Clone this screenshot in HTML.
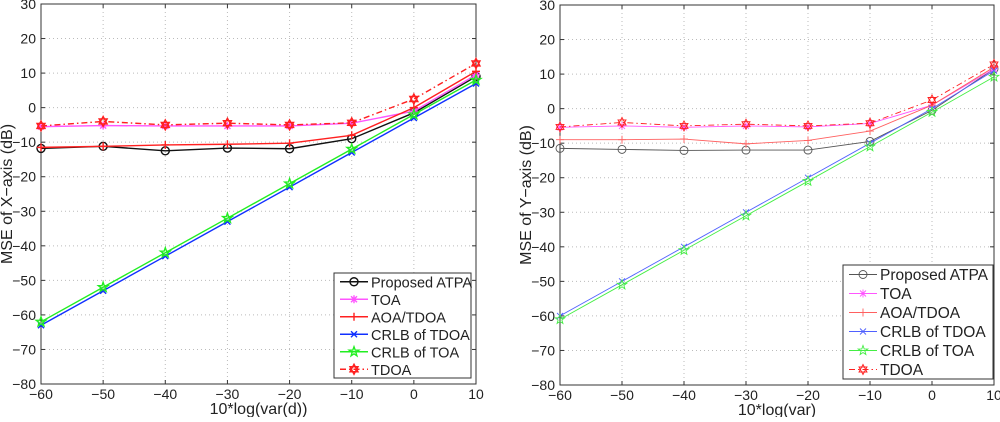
<!DOCTYPE html>
<html><head><meta charset="utf-8"><style>
body{margin:0;background:#fff}
svg text{font-family:"Liberation Sans",sans-serif;fill:#222}
</style></head><body>
<svg id="c" width="1000" height="417" xmlns="http://www.w3.org/2000/svg"></svg>
<script>
const xCats=[-60,-50,-40,-30,-20,-10,0,10];
const yTicks=[30,20,10,0,-10,-20,-30,-40,-50,-60,-70,-80];
const seriesNames=["Proposed ATPA","TOA","AOA/TDOA","CRLB of TDOA","CRLB of TOA","TDOA"];
const L_atpa=[-11.8,-11.2,-12.5,-11.7,-11.9,-9,-1.5,9];
const L_toa=[-5.5,-5.2,-5.3,-5.3,-5.3,-4.5,-1,9.5];
const L_aoa=[-11.5,-11.2,-10.8,-10.6,-10.3,-8,0,10.5];
const L_crlbTdoa=[-63,-53,-43,-33,-23,-13,-3,7];
const L_crlbToa=[-62,-52,-42,-32,-22,-12,-2,8];
const L_tdoa=[-5.3,-4,-5,-4.5,-5,-4.4,2.5,12.8];
const R_atpa=[-11.5,-11.8,-12.1,-12,-12,-9.5,-0.5,11.5];
const R_toa=[-5.4,-5,-5.4,-5,-5.3,-4.3,1,11.5];
const R_aoa=[-9,-9,-8.8,-10.2,-9.2,-6.5,1,12];
const R_crlbTdoa=[-60,-50,-40,-30,-20,-10,0,11];
const R_crlbToa=[-61,-51,-41,-31,-21,-11,-1,9.2];
const R_tdoa=[-5.3,-4,-5,-4.5,-5,-4.2,2.5,12.8];

const NS="http://www.w3.org/2000/svg";
const svg=document.getElementById('c');
function mk(t,a,p){const e=document.createElementNS(NS,t);for(const k in a)e.setAttribute(k,a[k]);(p||svg).appendChild(e);return e;}

function marker(g,type,x,y,col,sw){
  const s=4;
  if(type==='o'){mk('circle',{cx:x,cy:y,r:4,fill:'none',stroke:col,'stroke-width':sw},g);}
  else if(type==='*'){mk('path',{d:`M${x-s} ${y}H${x+s}M${x} ${y-s}V${y+s}M${x-3} ${y-3}L${x+3} ${y+3}M${x-3} ${y+3}L${x+3} ${y-3}`,stroke:col,'stroke-width':sw},g);}
  else if(type==='+'){mk('path',{d:`M${x-s} ${y}H${x+s}M${x} ${y-s}V${y+s}`,stroke:col,'stroke-width':sw},g);}
  else if(type==='x'){mk('path',{d:`M${x-3} ${y-3}L${x+3} ${y+3}M${x-3} ${y+3}L${x+3} ${y-3}`,stroke:col,'stroke-width':sw},g);}
  else if(type==='p'){let pts=[];for(let i=0;i<10;i++){const r=i%2?2:5,a=-Math.PI/2+i*Math.PI/5;pts.push((x+r*Math.cos(a)).toFixed(1)+','+(y+r*Math.sin(a)).toFixed(1));}mk('polygon',{points:pts.join(' '),fill:'none',stroke:col,'stroke-width':sw},g);}
  else if(type==='h'){mk('polygon',{points:`${x},${y-5} ${x+4},${y+2.5} ${x-4},${y+2.5}`,fill:'none',stroke:col,'stroke-width':sw},g);mk('polygon',{points:`${x},${y+5} ${x+4},${y-2.5} ${x-4},${y-2.5}`,fill:'none',stroke:col,'stroke-width':sw},g);}
}

function plot(id,x0,x1,y0,y1,xlabel,ylabel,data,sw,cols,leg,lfs){
  const g=mk('g',{});
  
  
  const X=v=>x0+(v+60)/70*(x1-x0), Y=v=>y0+(30-v)/110*(y1-y0);
  mk('rect',{x:x0,y:y0,width:x1-x0,height:y1-y0,fill:'#fff',stroke:'#333','stroke-width':1},g);
  xCats.forEach(v=>{const x=X(v);
    if(v>-60&&v<10)mk('line',{x1:x,y1:y0,x2:x,y2:y1,stroke:'#bbb','stroke-dasharray':'1,3'},g);
    mk('line',{x1:x,y1:y1,x2:x,y2:y1-4,stroke:'#333'},g);mk('line',{x1:x,y1:y0,x2:x,y2:y0+4,stroke:'#333'},g);
    const t=mk('text',{x:x,y:y1+15,'text-anchor':'middle','font-size':14},g);t.textContent=v<0?'\u2212'+(-v):v;
    });
  yTicks.forEach(v=>{const y=Y(v);
    if(v<30&&v>-80)mk('line',{x1:x0,y1:y,x2:x1,y2:y,stroke:'#bbb','stroke-dasharray':'1,3'},g);
    mk('line',{x1:x0,y1:y,x2:x0+4,y2:y,stroke:'#333'},g);mk('line',{x1:x1,y1:y,x2:x1-4,y2:y,stroke:'#333'},g);
    const t=mk('text',{x:x0-5,y:y+5,'text-anchor':'end','font-size':14},g);t.textContent=v<0?'\u2212'+(-v):v;
    });
  let t=mk('text',{x:(x0+x1)/2,y:y1+30,'text-anchor':'middle','font-size':16},g);t.textContent=xlabel;
  
  t=mk('text',{x:0,y:0,'text-anchor':'middle','font-size':16,transform:`translate(${x0-29},${(y0+y1)/2}) rotate(-90)`},g);t.textContent=ylabel;
  
  const mks=['o','*','+','x','p','h'];
  data.forEach((arr,i)=>{
    const sg=mk('g',{},g);
    
    
    const pts=arr.map((v,j)=>X(xCats[j])+','+Y(v)).join(' ');
    const a={points:pts,fill:'none',stroke:cols[i],'stroke-width':sw};
    if(i===5)a['stroke-dasharray']='6,3,1.5,3';
    mk('polyline',a,sg);
    arr.forEach((v,j)=>marker(sg,mks[i],X(xCats[j]),Y(v),cols[i],sw));
  });
  const lg=mk('g',{},g);
  
  mk('rect',{x:leg[0],y:leg[1],width:leg[2]-leg[0],height:leg[3]-leg[1],fill:'#fff',stroke:'#333'},lg);
  const dy=(leg[3]-leg[1])/6;
  seriesNames.forEach((n,i)=>{
    const e=mk('g',{},lg);
    
    const y=leg[1]+dy*(i+0.5);
    const a={x1:leg[0]+6,y1:y,x2:leg[0]+34,y2:y,stroke:cols[i],'stroke-width':sw};
    if(i===5)a['stroke-dasharray']='6,3,1.5,3';
    mk('line',a,e);marker(e,mks[i],leg[0]+20,y,cols[i],sw);
    const tt=mk('text',{x:leg[0]+37,y:y+5.5,'font-size':lfs},e);tt.textContent=n;
  });
}
plot('left-plot',41,476,4,384,'10*log(var(d))','MSE of X\u2212axis (dB)',
  [L_atpa,L_toa,L_aoa,L_crlbTdoa,L_crlbToa,L_tdoa],1.4,
  ['#111','#ff55ff','#ff2020','#1030ff','#22ee22','#ff2020'],[334,273,471,378],14.5);
plot('right-plot',560,994,5,385,'10*log(var)','MSE of Y\u2212axis (dB)',
  [R_atpa,R_toa,R_aoa,R_crlbTdoa,R_crlbToa,R_tdoa],0.9,
  ['#555','#ff55ff','#ff6060','#5060ff','#44ee44','#ff2020'],[843,265,993,379],15.5);
</script>
</body></html>
